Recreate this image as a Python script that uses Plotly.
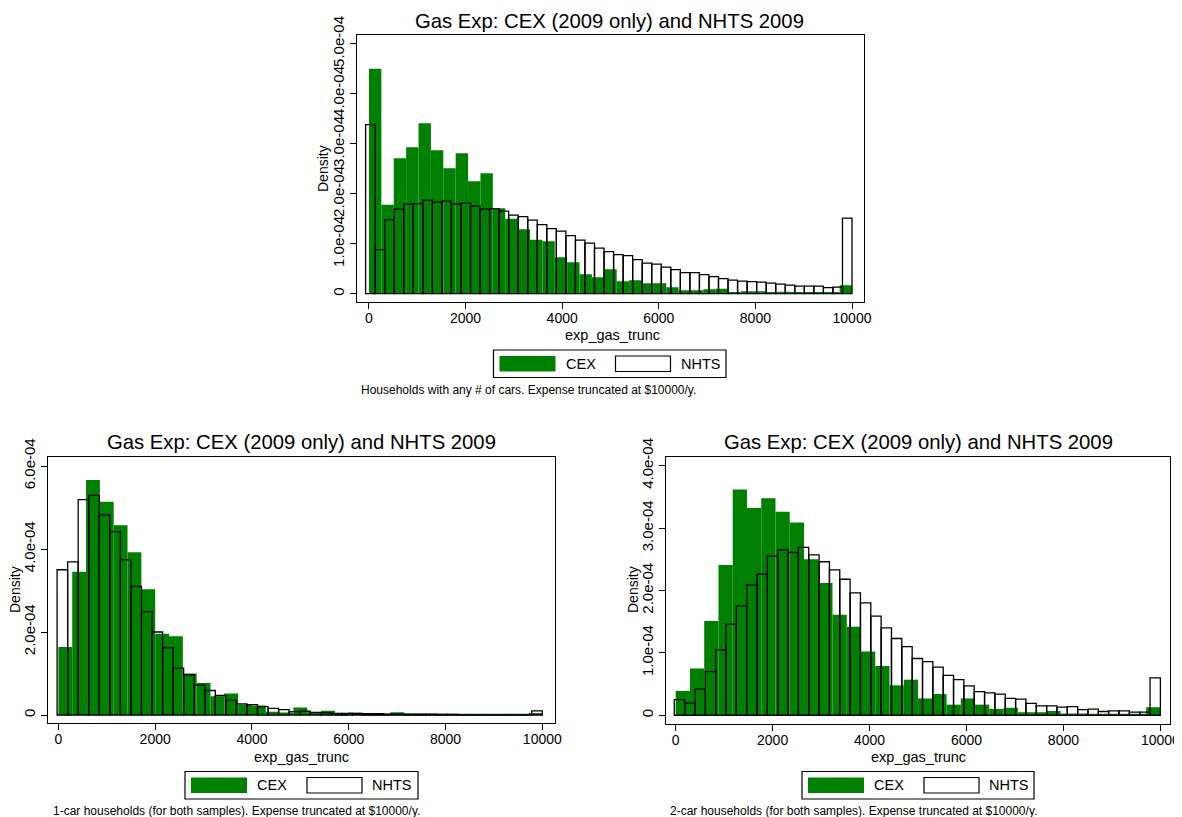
import plotly.graph_objects as go

# ---------------- data (density, in units of 1e-4) ----------------
# Top panel: households with any number of cars
top_cex_start = 0.0
top_cex = [4.50, 1.78, 2.71, 2.93, 3.41, 2.87, 2.51, 2.81, 2.25, 2.41,
           1.71, 1.50, 1.29, 1.08, 1.05, 0.73, 0.63, 0.39, 0.33, 0.49,
           0.25, 0.27, 0.21, 0.21, 0.13, 0.07, 0.07, 0.09, 0.10, 0.03,
           0.05, 0.05, 0.03, 0.04, 0.03, 0.03, 0.02, 0.02, 0.17]
top_nhts_start = -70.0
top_nhts = [3.38, 0.88, 1.48, 1.69, 1.79, 1.80, 1.87, 1.83, 1.85, 1.79,
            1.81, 1.75, 1.69, 1.70, 1.65, 1.57, 1.54, 1.47, 1.38, 1.30,
            1.25, 1.16, 1.07, 1.01, 0.91, 0.84, 0.78, 0.76, 0.68, 0.61,
            0.59, 0.53, 0.48, 0.42, 0.42, 0.38, 0.34, 0.30, 0.27, 0.25,
            0.24, 0.23, 0.21, 0.19, 0.17, 0.15, 0.15, 0.15, 0.12, 0.13,
            1.51]

# Bottom-left panel: 1-car households
one_cex_start = 0.0
one_cex = [1.64, 3.45, 5.66, 5.14, 4.57, 3.92, 3.03, 1.96, 1.90, 1.00,
           0.77, 0.45, 0.52, 0.25, 0.23, 0.08, 0.06, 0.18, 0.07, 0.10,
           0.04, 0.06, 0.03, 0.03, 0.065, 0.015, 0.01, 0.015, 0.02, 0.015,
           0.02, 0.015, 0.01, 0.01, 0.05]
one_nhts_start = -27.0
one_nhts = [3.50, 3.69, 5.19, 5.29, 4.82, 4.42, 3.74, 3.10, 2.49, 2.00,
            1.62, 1.13, 0.97, 0.72, 0.59, 0.47, 0.35, 0.27, 0.25, 0.20,
            0.16, 0.13, 0.08, 0.09, 0.065, 0.055, 0.04, 0.04, 0.03, 0.03,
            0.03, 0.02, 0.02, 0.02, 0.02, 0.02, 0.015, 0.015, 0.01, 0.01,
            0.01, 0.01, 0.01, 0.01, 0.01, 0.10]

# Bottom-right panel: 2-car households
two_cex_start = 0.0
two_cex = [0.39, 0.75, 1.51, 2.41, 3.62, 3.32, 3.48, 3.26, 3.09, 2.50,
           2.12, 1.61, 1.42, 1.02, 0.79, 0.48, 0.57, 0.27, 0.34, 0.17,
           0.27, 0.17, 0.10, 0.12, 0.05, 0.05, 0.07, 0.03, 0.03, 0.02,
           0.02, 0.02, 0.02, 0.13]
two_nhts_start = -29.0
two_nhts = [0.25, 0.20, 0.42, 0.70, 1.05, 1.46, 1.75, 2.09, 2.26, 2.55,
            2.65, 2.61, 2.69, 2.57, 2.46, 2.33, 2.18, 1.96, 1.80, 1.59,
            1.40, 1.23, 1.10, 0.91, 0.86, 0.77, 0.64, 0.57, 0.47, 0.38,
            0.36, 0.34, 0.27, 0.26, 0.19, 0.15, 0.15, 0.13, 0.14, 0.09,
            0.10, 0.06, 0.07, 0.07, 0.05, 0.05, 0.60]

x_max = 10000.0
x_tickvals = [0, 2000, 4000, 6000, 8000, 10000]
x_ticktext = ["0", "2000", "4000", "6000", "8000", "10000"]
top_y_tickvals = [0, 1, 2, 3, 4, 5]
top_y_ticktext = ["0", "1.0e-04", "2.0e-04", "3.0e-04", "4.0e-04", "5.0e-04"]
one_y_tickvals = [0, 2, 4, 6]
one_y_ticktext = ["0", "2.0e-04", "4.0e-04", "6.0e-04"]
two_y_tickvals = [0, 1, 2, 3, 4]
two_y_ticktext = ["0", "1.0e-04", "2.0e-04", "3.0e-04", "4.0e-04"]

title_text = "Gas Exp: CEX (2009 only) and NHTS 2009"
x_title = "exp_gas_trunc"
y_title = "Density"
series_names = ["CEX", "NHTS"]
notes = ["Households with any # of cars. Expense truncated at $10000/y.",
         "1-car households (for both samples). Expense truncated at $10000/y.",
         "2-car households (for both samples). Expense truncated at $10000/y."]

# ---------------- styling / layout ----------------
OFF = 8  # page body margin
W, H = 1182 - OFF, 817 - OFF
GREEN = "rgb(0,128,0)"
FONT = "Liberation Sans, Arial, Helvetica, sans-serif"


def fx(p):
    return (p - OFF) / W


def fy(p):
    return 1 - (p - OFF) / H


def bins(start, vals):
    w = (x_max - start) / len(vals)
    centers = [start + (i + 0.5) * w for i in range(len(vals))]
    return centers, w


panels = [
    dict(cex=(top_cex_start, top_cex), nhts=(top_nhts_start, top_nhts),
         frame=(357, 864, 35, 302.3), xr=(-248, 10248), yr=(-0.172, 5.174),
         yt=(top_y_tickvals, top_y_ticktext),
         title=(609, 21), xt=(612, 335), ytl=(323, 169),
         legend=(493.5, 726, 350, 377.5), note=(358.5, 390)),
    dict(cex=(one_cex_start, one_cex), nhts=(one_nhts_start, one_nhts),
         frame=(47.7, 554.6, 456.7, 723.3), xr=(-221, 10254), yr=(-0.2, 6.224),
         yt=(one_y_tickvals, one_y_ticktext),
         title=(301, 442), xt=(301, 757), ytl=(15, 590),
         legend=(185, 418, 771.5, 799), note=(51, 811)),
    dict(cex=(two_cex_start, two_cex), nhts=(two_nhts_start, two_nhts),
         frame=(666, 1169.5, 456.7, 724), xr=(-200, 10188), yr=(-0.14, 4.144),
         yt=(two_y_tickvals, two_y_ticktext),
         title=(918, 442), xt=(918, 757), ytl=(633, 590),
         legend=(802, 1034, 771.5, 799), note=(668, 811)),
]

fig = go.Figure()
annotations = []
shapes = []
layout_axes = {}

for k, p in enumerate(panels):
    sfx = "" if k == 0 else str(k + 1)
    xa, ya = "x" + sfx, "y" + sfx
    cs, cv = p["cex"]
    cx, cw = bins(cs, cv)
    fig.add_trace(go.Bar(x=cx, y=[v * 1e-4 for v in cv], width=cw,
                         marker=dict(color=GREEN, line=dict(width=0)),
                         name=series_names[0], showlegend=False,
                         xaxis=xa, yaxis=ya))
    ns, nv = p["nhts"]
    nx, nw = bins(ns, nv)
    fig.add_trace(go.Bar(x=nx, y=[v * 1e-4 for v in nv], width=nw,
                         marker=dict(color="rgba(0,0,0,0)",
                                     line=dict(color="black", width=1.3)),
                         name=series_names[1], showlegend=False,
                         xaxis=xa, yaxis=ya))

    l, r, t, b = p["frame"]
    axcommon = dict(showline=True, mirror=True, linecolor="black", linewidth=1.3,
                    ticks="outside", ticklen=6, tickwidth=1.2, tickcolor="black",
                    showgrid=False, zeroline=False, automargin=False)
    layout_axes["xaxis" + sfx] = dict(axcommon, domain=[fx(l), fx(r)], range=list(p["xr"]),
                                      anchor=ya, tickmode="array", tickvals=x_tickvals,
                                      ticktext=x_ticktext, tickangle=0,
                                      ticklabelstandoff=-3,
                                      tickfont=dict(family=FONT, size=14, color="black"))
    tv, tt = p["yt"]
    layout_axes["yaxis" + sfx] = dict(axcommon, domain=[fy(b), fy(t)],
                                      range=[p["yr"][0] * 1e-4, p["yr"][1] * 1e-4],
                                      anchor=xa, tickmode="array",
                                      tickvals=[v * 1e-4 for v in tv], ticktext=tt,
                                      tickangle=-90,
                                      tickfont=dict(family=FONT, size=15, color="black"))

    annotations.append(dict(text=title_text, x=fx(p["title"][0]), y=fy(p["title"][1]),
                            xref="paper", yref="paper", showarrow=False,
                            xanchor="center", yanchor="middle",
                            font=dict(family=FONT, size=20.3, color="black")))
    annotations.append(dict(text=x_title, x=fx(p["xt"][0]), y=fy(p["xt"][1]),
                            xref="paper", yref="paper", showarrow=False,
                            xanchor="center", yanchor="middle",
                            font=dict(family=FONT, size=14.5, color="black")))
    annotations.append(dict(text=y_title, x=fx(p["ytl"][0]), y=fy(p["ytl"][1]),
                            xref="paper", yref="paper", showarrow=False, textangle=-90,
                            xanchor="center", yanchor="middle",
                            font=dict(family=FONT, size=14, color="black")))
    annotations.append(dict(text=notes[k], x=fx(p["note"][0]), y=fy(p["note"][1]),
                            xref="paper", yref="paper", showarrow=False,
                            xanchor="left", yanchor="middle",
                            font=dict(family=FONT, size=12, color="black")))

    # legend box
    L0, L1, T0, T1 = p["legend"]
    shapes.append(dict(type="rect", xref="paper", yref="paper",
                       x0=fx(L0), x1=fx(L1), y0=fy(T1), y1=fy(T0),
                       line=dict(color="black", width=1.2), fillcolor="white", layer="above"))
    cy0, cy1 = T0 + 6, T1 - 6
    g0 = L0 + 6
    shapes.append(dict(type="rect", xref="paper", yref="paper",
                       x0=fx(g0), x1=fx(g0 + 56), y0=fy(cy1), y1=fy(cy0),
                       line=dict(width=0), fillcolor=GREEN, layer="above"))
    annotations.append(dict(text=series_names[0], x=fx(g0 + 64), y=fy((T0 + T1) / 2),
                            xref="paper", yref="paper", showarrow=False,
                            xanchor="left", yanchor="middle",
                            font=dict(family=FONT, size=14.5, color="black")))
    w0 = L0 + 122
    shapes.append(dict(type="rect", xref="paper", yref="paper",
                       x0=fx(w0), x1=fx(w0 + 55), y0=fy(cy1), y1=fy(cy0),
                       line=dict(color="black", width=1.2), fillcolor="white", layer="above"))
    annotations.append(dict(text=series_names[1], x=fx(w0 + 63), y=fy((T0 + T1) / 2),
                            xref="paper", yref="paper", showarrow=False,
                            xanchor="left", yanchor="middle",
                            font=dict(family=FONT, size=14.5, color="black")))

fig.update_layout(template="none", width=W, height=H, autosize=False,
                  margin=dict(l=0, r=0, t=0, b=0, pad=0),
                  paper_bgcolor="white", plot_bgcolor="white",
                  barmode="overlay", showlegend=False,
                  font=dict(family=FONT, color="black"),
                  annotations=annotations, shapes=shapes, **layout_axes)

fig.write_html("out.html")
